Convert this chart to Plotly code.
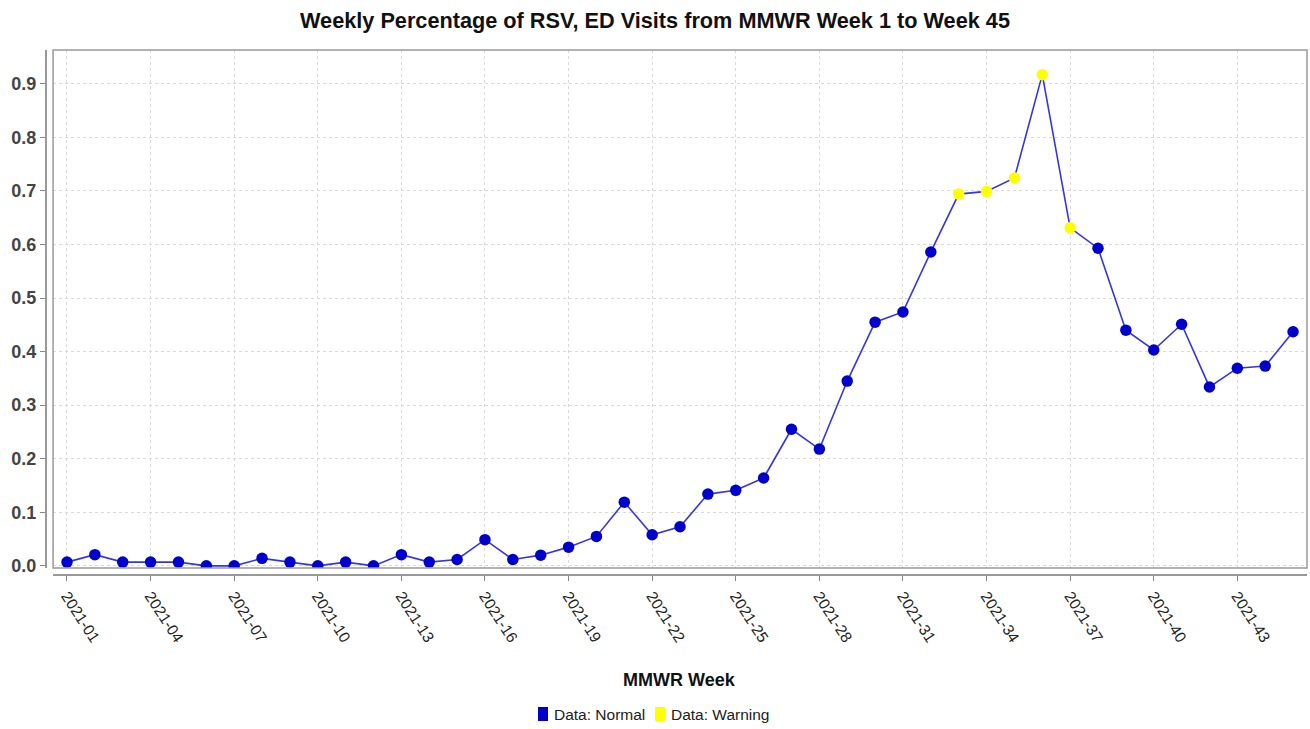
import plotly.graph_objects as go

weeks = list(range(1, 46))
week_labels = [f"2021-{w:02d}" for w in weeks]
values = [0.007, 0.021, 0.007, 0.007, 0.007, 0.0, 0.0, 0.014, 0.007, 0.0,
          0.007, 0.0, 0.021, 0.007, 0.012, 0.049, 0.012, 0.020, 0.035, 0.055,
          0.119, 0.058, 0.073, 0.134, 0.141, 0.164, 0.255, 0.218, 0.345, 0.455,
          0.474, 0.586, 0.694, 0.699, 0.724, 0.917, 0.631, 0.593, 0.440, 0.403,
          0.451, 0.334, 0.369, 0.373, 0.437]
warning_weeks = [33, 34, 35, 36, 37]
tick_weeks = list(range(1, 46, 3))
legend_names = ["Data: Normal", "Data: Warning"]

normal_x = [w for w in weeks if w not in warning_weeks]
normal_y = [values[w - 1] for w in normal_x]
warn_x = [w for w in weeks if w in warning_weeks]
warn_y = [values[w - 1] for w in warn_x]

BLUE_LINE = "#3535e6"
BLUE = "#0000cc"
YELLOW = "#ffff00"
FONT = "Liberation Sans"

W, H = 1310, 729
ML, MR, MT, MB = 46, 3, 50, 154
PW, PH = W - ML - MR, H - MT - MB


def px_x(px):
    return (px - ML) / PW


def px_y(py):
    return (H - MB - py) / PH


fig = go.Figure()
fig.add_trace(go.Scatter(x=weeks, y=values, mode="lines",
                         line=dict(color=BLUE_LINE, width=1.6),
                         showlegend=False, hoverinfo="skip"))
fig.add_trace(go.Scatter(x=normal_x, y=normal_y, mode="markers", name=legend_names[0],
                         marker=dict(color=BLUE, size=11.5), showlegend=False))
fig.add_trace(go.Scatter(x=warn_x, y=warn_y, mode="markers", name=legend_names[1],
                         marker=dict(color=YELLOW, size=11.5), showlegend=False))

# manual legend (swatch + text), centered below axis title
legend_items = [(538, BLUE, legend_names[0]), (655, YELLOW, legend_names[1])]
shapes = [dict(type="rect", xref="x domain", yref="y domain", x0=0, x1=1, y0=0, y1=1,
               line=dict(color="#999", width=1.5), layer="above")]
annotations = [dict(text="<b>MMWR Week</b>", xref="paper", yref="paper",
                    x=px_x(679), y=px_y(680), xanchor="center", yanchor="middle",
                    showarrow=False, font=dict(size=18, color="#111", family=FONT))]
for x0, col, name in legend_items:
    shapes.append(dict(type="rect", xref="paper", yref="paper",
                       x0=px_x(x0), x1=px_x(x0 + 10), y0=px_y(721), y1=px_y(707),
                       fillcolor=col, line=dict(width=0)))
    annotations.append(dict(text=name, xref="paper", yref="paper",
                            x=px_x(x0 + 14), y=px_y(714), xanchor="left", yanchor="middle",
                            showarrow=False, font=dict(size=15.5, color="#222", family=FONT)))

fig.update_layout(
    width=W, height=H,
    margin=dict(l=ML, r=MR, t=MT, b=MB, autoexpand=False),
    paper_bgcolor="white", plot_bgcolor="white",
    font=dict(family=FONT, color="#333"),
    title=dict(text="<b>Weekly Percentage of RSV, ED Visits from MMWR Week 1 to Week 45</b>",
               x=0.5, xanchor="center", y=0.972, yanchor="middle",
               font=dict(size=21.7, color="#111", family=FONT)),
    showlegend=False,
    xaxis=dict(domain=[0.0056, 1], anchor="free", position=0, automargin=False,
               range=[0.5, 45.5],
               tickmode="array", tickvals=tick_weeks,
               ticktext=[week_labels[w - 1] for w in tick_weeks],
               tickangle=57, tickfont=dict(size=15.5, color="#222"),
               ticks="outside", ticklen=5, tickcolor="#888",
               showline=True, linecolor="#999", linewidth=2,
               showgrid=True, gridcolor="#d9d9d9", griddash="3px,3px", gridwidth=1,
               zeroline=False),
    yaxis=dict(domain=[0.0133, 1], anchor="free", position=0, automargin=False,
               range=[-0.004, 0.963],
               tickvals=[0.0, 0.1, 0.2, 0.3, 0.4, 0.5, 0.6, 0.7, 0.8, 0.9],
               tickformat=".1f",
               tickfont=dict(size=18, color="#444", family=FONT, weight="bold"),
               ticks="outside", ticklen=5, tickcolor="#888",
               showline=True, linecolor="#999", linewidth=2,
               showgrid=True, gridcolor="#d9d9d9", griddash="3px,3px", gridwidth=1,
               zeroline=False),
    annotations=annotations,
    shapes=shapes,
)

fig.write_html("out.html", config={"displayModeBar": False, "staticPlot": True})

# remove the browser's default 8px body margin so the figure sits at (0, 0)
with open("out.html", "r", encoding="utf-8") as f:
    html = f.read()
html = html.replace("<head>", "<head><style>html,body{margin:0;padding:0;overflow:hidden}</style>", 1)
with open("out.html", "w", encoding="utf-8") as f:
    f.write(html)
